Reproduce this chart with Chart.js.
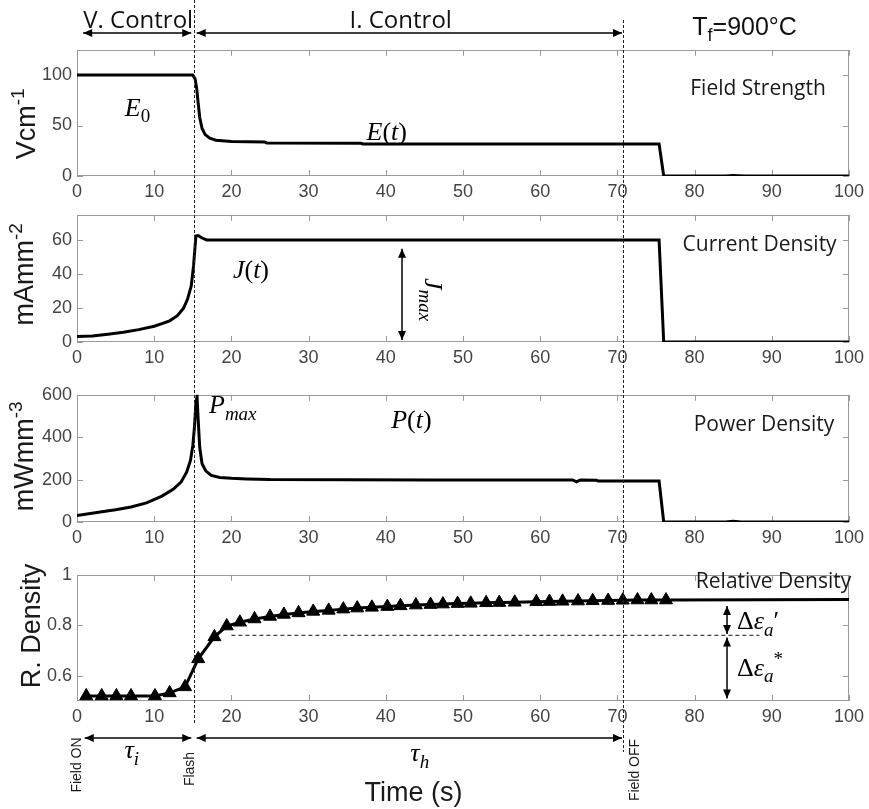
<!DOCTYPE html>
<html lang="en">
<head>
<meta charset="UTF-8">
<title>Flash sintering response at 900 °C</title>
<script src="https://cdn.jsdelivr.net/npm/chart.js"></script>
<style>
  body { margin: 0; background: #fff; }
  #figure { position: relative; width: 869px; height: 809px; overflow: hidden; }
  #figure canvas { position: absolute; left: 0; }
  #overlay { top: 0; pointer-events: none; }
</style>
</head>
<body>
<div id="figure">
  <canvas id="fieldChart"></canvas>
  <canvas id="currentChart"></canvas>
  <canvas id="powerChart"></canvas>
  <canvas id="densityChart"></canvas>
  <canvas id="overlay" width="869" height="809"></canvas>
</div>
<script>
// ---- data, time in s ----
const fieldTime = [0, 15.0, 15.3, 15.5, 15.7, 15.9, 16.2, 16.6, 17.2, 18.0, 20.0, 24.3, 24.6, 36.8, 37.0, 75.4, 76.0, 84.0, 85.0, 86.5, 100];
const fieldVal  = [100, 100, 96, 87, 72, 58, 47, 41, 37.5, 35.5, 34.2, 33.8, 32.6, 32.4, 31.8, 31.8, 0, 0, 0.6, 0, 0];

const currentTime = [0, 2, 4, 6, 8, 10, 11, 12, 13, 13.8, 14.3, 14.8, 15.1, 15.4, 15.7, 16.2, 16.8, 75.4, 76.0, 100];
const currentVal  = [3.2, 3.6, 4.6, 5.8, 7.3, 9.3, 10.8, 12.5, 15.5, 20, 25, 33, 45, 62.5, 62.8, 61.3, 60.2, 60.2, 0, 0];

const powerTime = [0, 3, 5, 7, 9, 11, 12.5, 13.5, 14.2, 14.7, 15.0, 15.2, 15.4, 15.55, 15.7, 15.9, 16.2, 16.7, 17.4, 18.5, 20, 22, 25, 35, 46, 64.2, 64.7, 65.2, 67.3, 67.5, 75.4, 76.0, 84, 85, 86, 100];
const powerVal  = [31, 47, 58, 71, 90, 122, 155, 190, 235, 290, 360, 440, 560, 590, 480, 350, 275, 240, 220, 210, 206, 203, 200, 199, 198, 198, 189, 198, 197, 193, 193, 0, 0, 4, 0, 0];

const densityTime = [1.2, 3.2, 5.1, 7.0, 10.1, 12.0, 14.0, 15.7, 17.8, 19.4, 21.1, 23.0, 25.0, 26.8, 28.7, 30.6, 32.6, 34.5, 36.3, 38.2,
                     40.2, 41.9, 43.9, 45.8, 47.4, 49.3, 51.0, 53.0, 54.7, 56.7, 59.5, 61.2, 62.9, 64.9, 66.8, 68.8, 70.7, 72.6, 74.4, 76.3];
const densityVal  = [0.52, 0.52, 0.52, 0.52, 0.52, 0.532, 0.556, 0.667, 0.754, 0.797, 0.812, 0.825, 0.835, 0.843, 0.849, 0.855, 0.859, 0.864, 0.868, 0.871,
                     0.874, 0.877, 0.88, 0.882, 0.884, 0.886, 0.887, 0.889, 0.89, 0.891, 0.893, 0.894, 0.895, 0.896, 0.897, 0.898, 0.899, 0.9, 0.9, 0.9];
const densityEndTime = 100;
const densityEndVal = 0.902;

// density reached at the end of the transient, and the time span of that guide line
const refDensity = 0.76;
const refSpan = [20, 88.4];

// events
const flashTime = 15.1;
const fieldOffTime = 70.7;

// ---- styling ----
const SANS = '"Liberation Sans", Arial, sans-serif';
const LABEL = '"Open Sans", sans-serif';
const SERIF = '"Liberation Serif", "Times New Roman", serif';
const TICK_COLOR = '#444';
const PAD_TOP = 14, AXIS_H = 30, AXIS_W = 77;

function series(xs, ys, extra) {
  return Object.assign({
    data: xs.map((t, i) => ({ x: t, y: ys[i] })),
    borderColor: '#000', borderWidth: 3, pointRadius: 0, tension: 0, fill: false
  }, extra);
}

// text made of runs: {t, it, sub, sup, sans}
function drawRich(ctx, parts, x, y, size, align) {
  const fontOf = p => {
    const s = (p.sub || p.sup) ? Math.round(size * 0.72) : size;
    return (p.it ? 'italic ' : '') + s + 'px ' + (p.sans ? SANS : SERIF);
  };
  let w = 0;
  parts.forEach(p => { ctx.font = fontOf(p); w += ctx.measureText(p.t).width; });
  let cx = align === 'center' ? x - w / 2 : align === 'right' ? x - w : x;
  ctx.textAlign = 'left';
  ctx.textBaseline = 'alphabetic';
  parts.forEach(p => {
    ctx.font = fontOf(p);
    const dy = p.sub ? size * 0.25 : p.sup ? -size * 0.42 : 0;
    ctx.fillText(p.t, cx, y + dy);
    cx += ctx.measureText(p.t).width;
  });
}

function arrow(ctx, x1, y1, x2, y2) {
  const L = 9, W = 4;
  const a = Math.atan2(y2 - y1, x2 - x1);
  ctx.beginPath(); ctx.moveTo(x1, y1); ctx.lineTo(x2, y2); ctx.stroke();
  const head = (x, y, ang) => {
    ctx.beginPath();
    ctx.moveTo(x, y);
    ctx.lineTo(x - L * Math.cos(ang) + W * Math.sin(ang), y - L * Math.sin(ang) - W * Math.cos(ang));
    ctx.lineTo(x - L * Math.cos(ang) - W * Math.sin(ang), y - L * Math.sin(ang) + W * Math.cos(ang));
    ctx.closePath(); ctx.fill();
  };
  head(x2, y2, a);
  head(x1, y1, a + Math.PI);
}

function panelLabel(chart, text, t, v) {
  const { ctx, scales: { x, y } } = chart;
  ctx.font = '21px ' + LABEL;
  ctx.fillStyle = '#1a1a1a';
  ctx.textAlign = 'right';
  ctx.textBaseline = 'alphabetic';
  ctx.fillText(text, x.getPixelForValue(t), y.getPixelForValue(v));
}

// box with inward ticks on all four sides
const framePlugin = {
  id: 'frame',
  beforeDatasetsDraw(chart) {
    const { ctx, chartArea: a, scales: { x, y } } = chart;
    const T = 6;
    ctx.save();
    ctx.strokeStyle = '#9a9a9a';
    ctx.lineWidth = 1;
    ctx.strokeRect(Math.round(a.left) + 0.5, Math.round(a.top) + 0.5, Math.round(a.width) - 1, Math.round(a.height) - 1);
    ctx.beginPath();
    x.ticks.forEach(tk => {
      const p = Math.round(x.getPixelForValue(tk.value)) + 0.5;
      ctx.moveTo(p, a.bottom); ctx.lineTo(p, a.bottom - T);
      ctx.moveTo(p, a.top); ctx.lineTo(p, a.top + T);
    });
    y.ticks.forEach(tk => {
      const p = Math.round(y.getPixelForValue(tk.value)) + 0.5;
      ctx.moveTo(a.left, p); ctx.lineTo(a.left + T, p);
      ctx.moveTo(a.right, p); ctx.lineTo(a.right - T, p);
    });
    ctx.stroke();
    ctx.restore();
  }
};

function drawTitle(chart, title) {
  const { ctx, chartArea: a } = chart;
  ctx.save();
  ctx.fillStyle = '#1a1a1a';
  ctx.translate(title.x, (a.top + a.bottom) / 2 + title.shift);
  ctx.rotate(-Math.PI / 2);
  drawRich(ctx, [{ t: title.main, sans: 1 }, { t: title.exp, sans: 1, sup: 1 }], 0, 0, 27, 'center');
  ctx.restore();
}

function makePanel(p) {
  const canvas = document.getElementById(p.id);
  canvas.width = 869;
  canvas.height = PAD_TOP + (p.bottom - p.top) + AXIS_H;
  canvas.style.top = (p.top - PAD_TOP) + 'px';
  const tickFont = { family: SANS, size: 18 };
  return new Chart(canvas, {
    type: 'line',
    data: { datasets: p.datasets },
    options: {
      responsive: false,
      animation: false,
      events: [],
      layout: { padding: { top: PAD_TOP, right: 19, bottom: 0, left: 0 } },
      plugins: { legend: { display: false }, tooltip: { enabled: false } },
      scales: {
        x: {
          type: 'linear', min: 0, max: 100,
          ticks: { stepSize: 10, color: TICK_COLOR, font: tickFont, padding: 5, maxRotation: 0, autoSkip: false },
          grid: { display: false, drawTicks: false },
          border: { display: false },
          afterFit: s => { s.height = AXIS_H; }
        },
        y: {
          type: 'linear', min: p.min, max: p.max,
          ticks: { stepSize: p.step, includeBounds: false, color: TICK_COLOR, font: tickFont, padding: 5,
                   callback: p.fmt || (v => v) },
          grid: { display: false, drawTicks: false },
          border: { display: false },
          afterFit: s => { s.width = AXIS_W; }
        }
      }
    },
    plugins: [framePlugin, {
      id: 'panelText',
      afterDatasetsDraw(chart) {
        drawTitle(chart, p.title);
        const ctx = chart.ctx;
        ctx.save();
        ctx.fillStyle = '#000';
        ctx.strokeStyle = '#000';
        p.notes(chart);
        ctx.restore();
      }
    }]
  });
}

const fieldChart = makePanel({
  id: 'fieldChart', top: 48, bottom: 176, min: 0, max: 125, step: 50,
  title: { main: 'Vcm', exp: '-1', x: 35, shift: 11 },
  datasets: [series(fieldTime, fieldVal)],
  notes(c) {
    const { ctx, scales: { x, y } } = c;
    drawRich(ctx, [{ t: 'E', it: 1 }, { t: '0', sub: 1 }], x.getPixelForValue(6.2), y.getPixelForValue(59.6), 26, 'left');
    drawRich(ctx, [{ t: 'E', it: 1 }, { t: '(' }, { t: 't', it: 1 }, { t: ')' }], x.getPixelForValue(37.5), y.getPixelForValue(35.5), 26, 'left');
    panelLabel(c, 'Field Strength', 97.0, 80);
  }
});

makePanel({
  id: 'currentChart', top: 213, bottom: 342, min: 0, max: 75, step: 20,
  title: { main: 'mAmm', exp: '-2', x: 33, shift: -4 },
  datasets: [series(currentTime, currentVal)],
  notes(c) {
    const { ctx, scales: { x, y } } = c;
    drawRich(ctx, [{ t: 'J', it: 1 }, { t: '(' }, { t: 't', it: 1 }, { t: ')' }], x.getPixelForValue(20.2), y.getPixelForValue(37.8), 26, 'left');
    ctx.lineWidth = 1.5;
    arrow(ctx, x.getPixelForValue(42.1), y.getPixelForValue(55), x.getPixelForValue(42.1), y.getPixelForValue(1.2));
    ctx.save();
    ctx.translate(x.getPixelForValue(45.1), y.getPixelForValue(25));
    ctx.rotate(Math.PI / 2);
    drawRich(ctx, [{ t: 'J', it: 1 }, { t: 'max', it: 1, sub: 1 }], 0, 0, 26, 'center');
    ctx.restore();
    panelLabel(c, 'Current Density', 98.4, 53.5);
  }
});

makePanel({
  id: 'powerChart', top: 393, bottom: 522, min: 0, max: 600, step: 200,
  title: { main: 'mWmm', exp: '-3', x: 33, shift: -2 },
  datasets: [series(powerTime, powerVal)],
  notes(c) {
    const { ctx, scales: { x, y } } = c;
    drawRich(ctx, [{ t: 'P', it: 1 }, { t: 'max', it: 1, sub: 1 }], x.getPixelForValue(17.1), y.getPixelForValue(512), 26, 'left');
    drawRich(ctx, [{ t: 'P', it: 1 }, { t: '(' }, { t: 't', it: 1 }, { t: ')' }], x.getPixelForValue(40.7), y.getPixelForValue(442), 26, 'left');
    panelLabel(c, 'Power Density', 98.1, 428);
  }
});

makePanel({
  id: 'densityChart', top: 573, bottom: 701, min: 0.5, max: 1, step: 0.2,
  fmt: v => (Math.abs(v - 1) < 1e-9 ? '1' : v.toFixed(1)),
  title: { main: 'R. Density', exp: '', x: 40, shift: -12 },
  datasets: [
    series([...densityTime, densityEndTime], [...densityVal, densityEndVal]),
    series(densityTime, densityVal, {
      showLine: false, pointStyle: 'triangle', pointRadius: 7.5,
      pointBackgroundColor: '#000', pointBorderColor: '#000', pointBorderWidth: 1
    }),
    series(refSpan, [refDensity, refDensity], { borderWidth: 1.2, borderDash: [4, 3], borderColor: '#444' })
  ],
  notes(c) {
    const { ctx, scales: { x, y } } = c;
    const ax = x.getPixelForValue(84.2);
    ctx.lineWidth = 1.5;
    arrow(ctx, ax, y.getPixelForValue(0.876), ax, y.getPixelForValue(0.765));
    arrow(ctx, ax, y.getPixelForValue(0.752), ax, y.getPixelForValue(0.51));
    drawRich(ctx, [{ t: 'Δ' }, { t: 'ε', it: 1 }, { t: 'a', it: 1, sub: 1 }, { t: '′' }], x.getPixelForValue(85.5), y.getPixelForValue(0.785), 26, 'left');
    drawRich(ctx, [{ t: 'Δ' }, { t: 'ε', it: 1 }, { t: 'a', it: 1, sub: 1 }, { t: '*', sup: 1 }], x.getPixelForValue(85.5), y.getPixelForValue(0.60), 26, 'left');
    panelLabel(c, 'Relative Density', 100.3, 0.946);
  }
});

// figure-wide marks: event lines, control-mode spans, time annotations
(function drawOverlay(sx) {
  const ctx = document.getElementById('overlay').getContext('2d');
  const px = v => sx.getPixelForValue(v);

  ctx.save();
  ctx.strokeStyle = '#222';
  ctx.lineWidth = 1;
  ctx.setLineDash([3, 2]);
  [[flashTime, 0, 725], [fieldOffTime, 20, 752]].forEach(([t, y0, y1]) => {
    const xp = Math.round(px(t)) + 0.5;
    ctx.beginPath(); ctx.moveTo(xp, y0); ctx.lineTo(xp, y1); ctx.stroke();
  });
  ctx.restore();

  ctx.fillStyle = '#000';
  ctx.strokeStyle = '#000';
  ctx.lineWidth = 1.3;
  arrow(ctx, px(0.8), 33, px(flashTime - 0.3), 33);
  arrow(ctx, px(flashTime + 0.4), 33, px(fieldOffTime - 0.1), 33);
  arrow(ctx, px(1.0), 738, px(flashTime - 0.3), 738);
  arrow(ctx, px(flashTime + 0.4), 738, px(fieldOffTime - 0.1), 738);

  ctx.fillStyle = '#111';
  ctx.font = '24px ' + LABEL;
  ctx.textAlign = 'left';
  ctx.textBaseline = 'alphabetic';
  ctx.fillText('V. Control', px(0.8), 28);
  ctx.fillText('I. Control', px(35.3), 28);
  drawRich(ctx, [{ t: 'T', sans: 1 }, { t: 'f', sans: 1, sub: 1 }, { t: '=900°C', sans: 1 }], px(79.7), 35, 25, 'left');

  ctx.fillStyle = '#000';
  drawRich(ctx, [{ t: 'τ', it: 1 }, { t: 'i', it: 1, sub: 1 }], px(7.1), 758, 26, 'center');
  drawRich(ctx, [{ t: 'τ', it: 1 }, { t: 'h', it: 1, sub: 1 }], px(44.4), 761, 26, 'center');

  ctx.fillStyle = '#1a1a1a';
  ctx.font = '27px ' + SANS;
  ctx.textAlign = 'center';
  ctx.fillText('Time (s)', px(43.6), 801);

  const vtext = (text, t, yc) => {
    ctx.save();
    ctx.translate(px(t), yc);
    ctx.rotate(-Math.PI / 2);
    ctx.font = '14px ' + SANS;
    ctx.textAlign = 'center';
    ctx.textBaseline = 'middle';
    ctx.fillText(text, 0, 0);
    ctx.restore();
  };
  vtext('Field ON', 0, 765);
  vtext('Flash', 14.6, 769);
  vtext('Field OFF', 72.3, 770);
})(fieldChart.scales.x);
</script>
</body>
</html>
